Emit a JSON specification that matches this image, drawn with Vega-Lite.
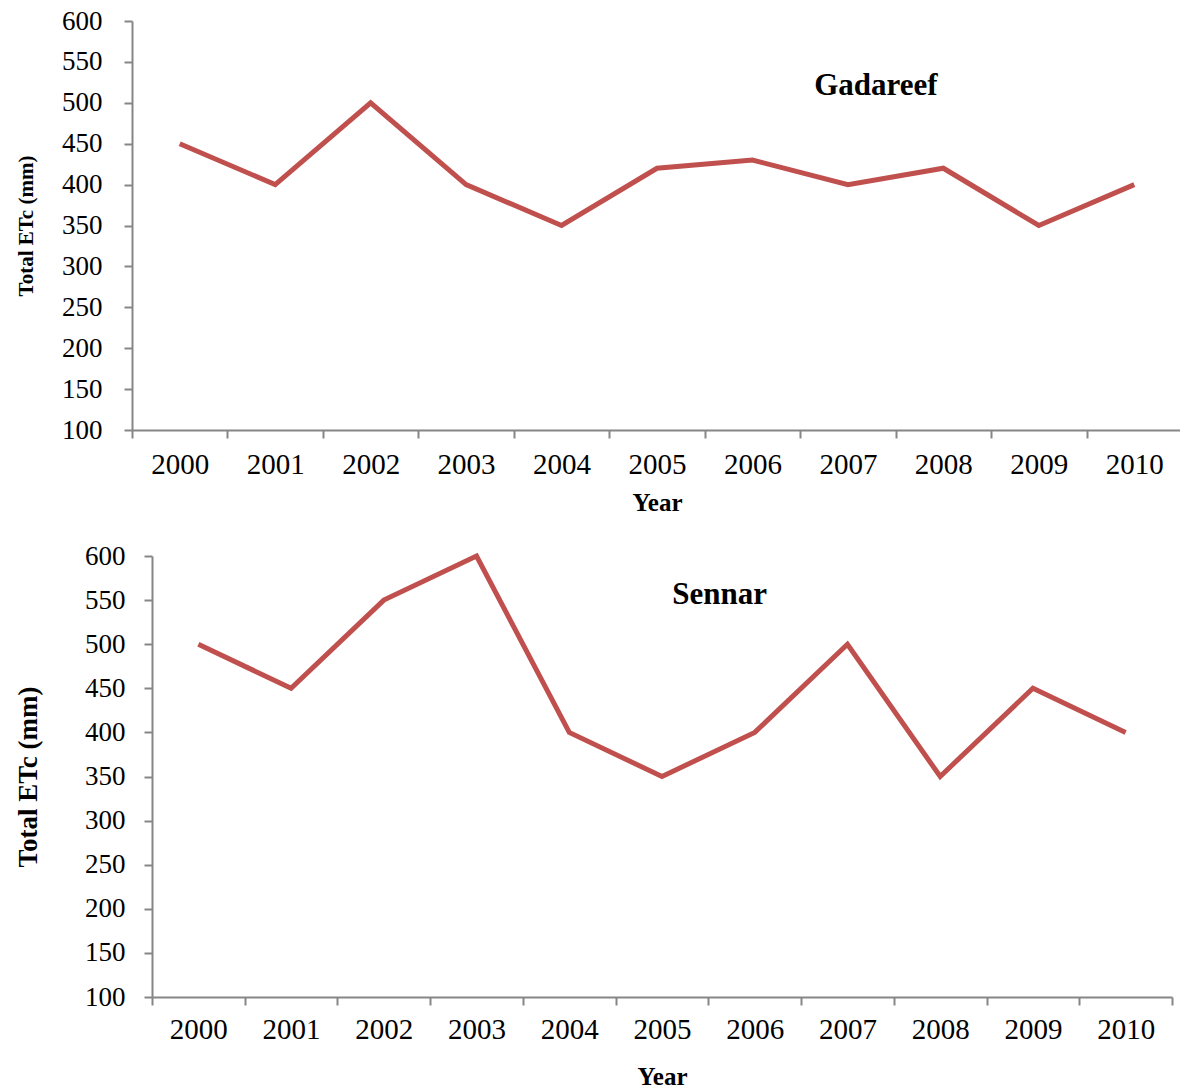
{
  "$schema": "https://vega.github.io/schema/vega-lite/v6.json",
  "padding": {"left": 14, "top": 7, "right": 0, "bottom": 0},
  "background": "white",
  "spacing": 27,
  "config": {
    "view": {"stroke": null},
    "font": "Liberation Serif",
    "text": {"font": "Liberation Serif"},
    "axis": {
      "grid": false,
      "domainColor": "#868686",
      "domainWidth": 2,
      "tickColor": "#868686",
      "tickWidth": 2,
      "tickSize": 8,
      "labelColor": "black",
      "titleColor": "black",
      "labelFont": "Liberation Serif",
      "titleFont": "Liberation Serif",
      "titleFontWeight": "bold"
    }
  },
  "datasets": {
    "gadareef": [
      {"year": "2000", "etc": 450}, {"year": "2001", "etc": 400}, {"year": "2002", "etc": 500},
      {"year": "2003", "etc": 400}, {"year": "2004", "etc": 350}, {"year": "2005", "etc": 420},
      {"year": "2006", "etc": 430}, {"year": "2007", "etc": 400}, {"year": "2008", "etc": 420},
      {"year": "2009", "etc": 350}, {"year": "2010", "etc": 400}
    ],
    "sennar": [
      {"year": "2000", "etc": 500}, {"year": "2001", "etc": 450}, {"year": "2002", "etc": 550},
      {"year": "2003", "etc": 600}, {"year": "2004", "etc": 400}, {"year": "2005", "etc": 350},
      {"year": "2006", "etc": 400}, {"year": "2007", "etc": 500}, {"year": "2008", "etc": 350},
      {"year": "2009", "etc": 450}, {"year": "2010", "etc": 400}
    ]
  },
  "vconcat": [
    {
      "width": 1030,
      "height": 409,
      "layer": [
        {
          "data": {"name": "gadareef"},
          "mark": {"type": "line", "color": "#C0504D", "strokeWidth": 5},
          "encoding": {
            "x": {"field": "year", "type": "ordinal", "scale": {"type": "band", "paddingInner": 0, "paddingOuter": 0, "range": [-20, 1030]},
                  "axis": {"title": "Year", "labelAngle": 0, "tickBand": "extent", "labelFont": "Liberation Serif", "labelFontSize": 29, "labelPadding": 12, "titleFont": "Liberation Serif", "titleFontSize": 25, "titlePadding": 11}},
            "y": {"field": "etc", "type": "quantitative", "scale": {"domain": [100, 600], "nice": false, "zero": false},
                  "axis": {"title": "Total ETc (mm)", "offset": 20, "values": [100,150,200,250,300,350,400,450,500,550,600], "labelFont": "Liberation Serif", "labelFontSize": 27, "labelPadding": 22, "titleFont": "Liberation Serif", "titleFontSize": 21, "titlePadding": 25}}
          }
        },
        {
          "data": {"values": [{}]},
          "mark": {"type": "text", "font": "Liberation Serif", "fontWeight": "bold", "fontSize": 31, "dx": 28, "align": "center", "baseline": "middle"},
          "encoding": {
            "x": {"datum": "2007", "type": "ordinal"},
            "y": {"datum": 520, "type": "quantitative"},
            "text": {"value": "Gadareef"}
          }
        }
      ]
    },
    {
      "width": 1020,
      "height": 441,
      "layer": [
        {
          "data": {"name": "sennar"},
          "mark": {"type": "line", "color": "#C0504D", "strokeWidth": 5},
          "encoding": {
            "x": {"field": "year", "type": "ordinal", "scale": {"type": "band", "paddingInner": 0, "paddingOuter": 0},
                  "axis": {"title": "Year", "labelAngle": 0, "tickBand": "extent", "labelFont": "Liberation Serif", "labelFontSize": 29, "labelPadding": 10, "titleFont": "Liberation Serif", "titleFontSize": 25, "titlePadding": 20}},
            "y": {"field": "etc", "type": "quantitative", "scale": {"domain": [100, 600], "nice": false, "zero": false},
                  "axis": {"title": "Total ETc (mm)", "values": [100,150,200,250,300,350,400,450,500,550,600], "labelFont": "Liberation Serif", "labelFontSize": 27, "labelPadding": 19, "titleFont": "Liberation Serif", "titleFontSize": 27, "titlePadding": 42}}
          }
        },
        {
          "data": {"values": [{}]},
          "mark": {"type": "text", "font": "Liberation Serif", "fontWeight": "bold", "fontSize": 31, "dx": -35, "align": "center", "baseline": "middle"},
          "encoding": {
            "x": {"datum": "2006", "type": "ordinal"},
            "y": {"datum": 556, "type": "quantitative"},
            "text": {"value": "Sennar"}
          }
        }
      ]
    }
  ]
}
